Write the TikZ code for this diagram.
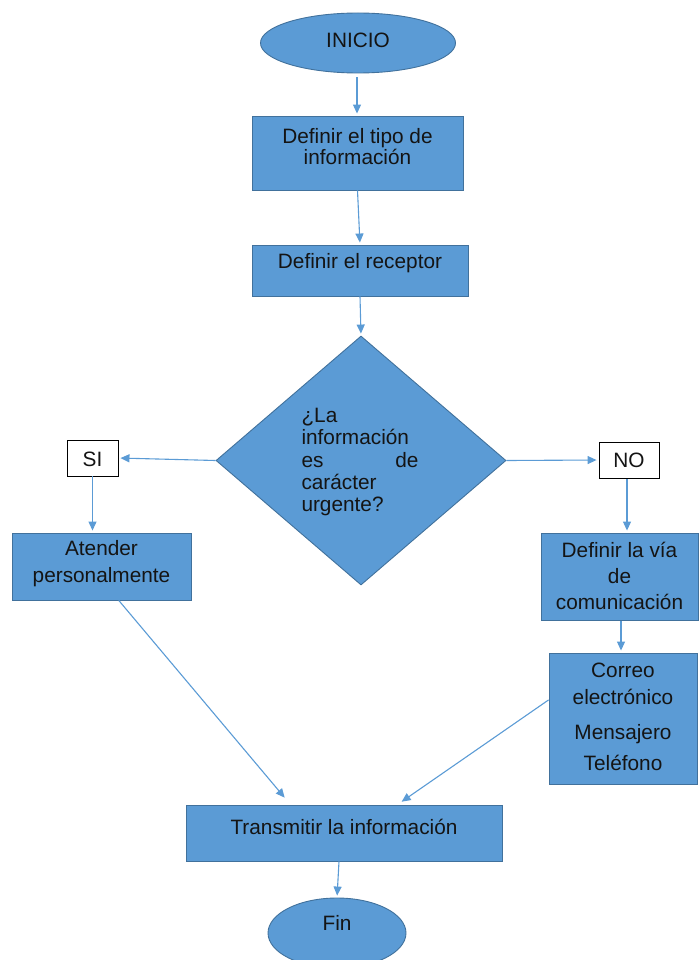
\documentclass[tikz,border=0pt]{standalone}
\usepackage{fontspec}
\setmainfont{Liberation Sans}
\usetikzlibrary{shapes.geometric,arrows.meta,calc}
\definecolor{boxfill}{HTML}{5B9BD5}
\definecolor{boxline}{HTML}{41719C}
\definecolor{arr}{HTML}{5B9BD5}
\definecolor{ink}{HTML}{141414}
\tikzset{
  procbox/.style={rectangle, draw=boxline, fill=boxfill, line width=0.9pt, inner sep=0pt},
  ovalbox/.style={ellipse, draw=boxline, fill=boxfill, line width=0.9pt, inner sep=0pt},
  decbox/.style={diamond, draw=boxline, fill=boxfill, line width=0.9pt, inner sep=0pt},
  tagbox/.style={rectangle, draw=black, fill=white, line width=0.9pt, inner sep=0pt},
  txt/.style={text=ink, align=center, inner sep=0pt, font=\fontsize{20.8}{26}\selectfont},
  conn/.style={draw=arr, line width=1.1pt, -{Triangle[length=9pt,width=8pt]}, shorten >=2pt},
}
\begin{document}
\begin{tikzpicture}[x=1pt,y=-1pt]
\useasboundingbox (0,0) rectangle (700,960);
\clip (0,0) rectangle (700,960);
% shapes
\node[ovalbox, minimum width=195, minimum height=60] (ini) at (358,43) {};
\node[procbox, minimum width=211, minimum height=74] (b1) at (357.5,153) {};
\node[procbox, minimum width=216, minimum height=51] (b2) at (360,270.5) {};
\node[decbox, minimum width=290, minimum height=249] (dec) at (361,460.5) {};
\node[tagbox, minimum width=51, minimum height=36] (si) at (92.5,458) {};
\node[tagbox, minimum width=60, minimum height=36] (no) at (629,460) {};
\node[procbox, minimum width=179, minimum height=67] (at) at (101.5,566.5) {};
\node[procbox, minimum width=157, minimum height=87] (via) at (619.5,576.5) {};
\node[procbox, minimum width=148, minimum height=131] (co) at (623,718.5) {};
\node[procbox, minimum width=316, minimum height=56] (tr) at (344,833) {};
\node[ovalbox, minimum width=138, minimum height=70] (fin) at (337,933) {};
% texts
\node[txt] (tini) at (358,40) {INICIO};
\node[txt, font=\fontsize{20.8}{21}\selectfont] (tb1) at (357.5,146.5) {Definir el tipo de\\información};
\node[txt] (tb2) at (360,263) {Definir el receptor};
\node[txt, align=left, text width=117, font=\fontsize{20.8}{22.2}\selectfont] (tdec) at (360,462) {¿La\\información\\es\hfill de\\carácter\\urgente?};
\node[txt] (tsi) at (92.5,459) {SI};
\node[txt] (tno) at (629,460) {NO};
\node[txt, font=\fontsize{20.8}{27}\selectfont] (tat) at (101.5,563.5) {Atender\\personalmente};
\node[txt, font=\fontsize{20.8}{26}\selectfont] (tvia) at (619.5,576) {Definir la vía\\de\\comunicación};
\node[txt, font=\fontsize{20.8}{27}\selectfont] (tco) at (623,716.5) {Correo\\electrónico\\[8pt]Mensajero\\[4pt]Teléfono};
\node[txt] (ttr) at (344,827) {Transmitir la información};
\node[txt] (tfin) at (337,923) {Fin};
% connectors
\draw[conn, shorten <=4pt] (ini.south -| 357,0) -- (b1.north -| 357,0);
\draw[conn] (b1.south) -- (b2.north);
\draw[conn] (b2.south) -- (dec.north);
\draw[conn] (dec.west) -- (si.east);
\draw[conn] (si.south) -- (at.north -| si.south);
\draw[conn] (dec.east) -- (no.west);
\draw[conn, shorten <=1pt] (no.south -| 627,0) -- (via.north -| 627,0);
\draw[conn, shorten <=1pt] (via.south -| 621,0) -- (co.north -| 621,0);
\draw[conn, shorten >=9pt] (at.-63.8) -- (tr.152.2);
\draw[conn, shorten >=5pt] (co.166.3) -- (tr.28.2);
\draw[conn] (tr.south -| 339,0) -- (fin.north);
\end{tikzpicture}
\end{document}
